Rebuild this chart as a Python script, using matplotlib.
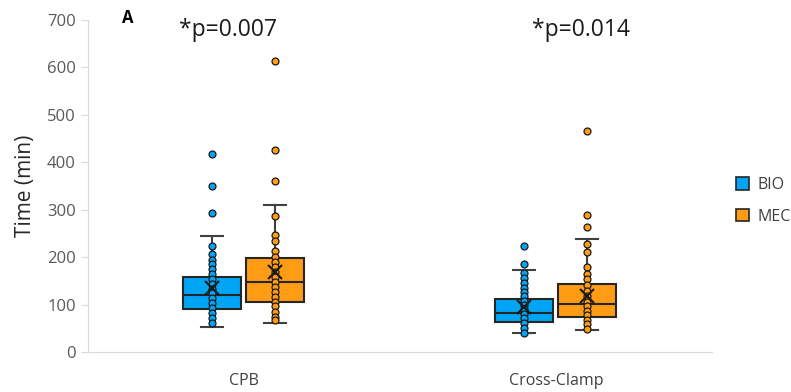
import numpy as np
import matplotlib.pyplot as plt
from matplotlib.patches import Patch

plt.rcParams['font.family'] = ['Open Sans', 'DejaVu Sans']

categories = ["CPB", "Cross-Clamp"]
groups = ["BIO", "MEC"]
p_labels = ["*p=0.007", "*p=0.014"]

# box summaries: whislo, q1, median, q3, whishi, mean
cpb_bio_stats = [53, 90, 120, 158, 245, 134]
cpb_mec_stats = [62, 105, 148, 198, 309, 168]
cc_bio_stats = [40, 64, 83, 112, 172, 95]
cc_mec_stats = [46, 73, 101, 143, 238, 119]

# individual points
cpb_bio_pts = [417, 350, 293, 224, 206, 195, 186, 176, 165, 153, 143, 132, 124,
               113, 103, 92, 82, 71, 61]
cpb_mec_pts = [614, 425, 360, 287, 247, 233, 212, 201, 190, 180, 169, 159, 148,
               138, 127, 117, 106, 96, 85, 74, 68]
cc_bio_pts = [224, 186, 166, 155, 146, 136, 127, 118, 108, 99, 90, 80, 71,
              61, 50, 41]
cc_mec_pts = [465, 289, 263, 228, 210, 179, 165, 153, 141, 129, 118, 106, 97,
              87, 77, 68, 59, 49]

colors = {"BIO": "#00a6f5", "MEC": "#ff9c14"}
stats_all = [[cpb_bio_stats, cpb_mec_stats], [cc_bio_stats, cc_mec_stats]]
pts_all = [[cpb_bio_pts, cpb_mec_pts], [cc_bio_pts, cc_mec_pts]]

fig = plt.figure(figsize=(7.91, 3.92), dpi=100)
ax = fig.add_axes([0.111, 0.102, 0.789, 0.847])

offset = 0.101
width = 0.186
for i, cat in enumerate(categories):
    for j, g in enumerate(groups):
        s = stats_all[i][j]
        pos = i + 0.5 + (j - 0.5) * 2 * offset
        st = dict(whislo=s[0], q1=s[1], med=s[2], q3=s[3], whishi=s[4], mean=s[5])
        ax.bxp([st], positions=[pos], widths=width, capwidths=0.07,
               showfliers=False, showmeans=True, patch_artist=True,
               boxprops=dict(facecolor=colors[g], edgecolor="#262626", linewidth=1.5),
               medianprops=dict(color="#262626", linewidth=1.5),
               whiskerprops=dict(color="#404040", linewidth=1.5),
               capprops=dict(color="#404040", linewidth=1.5),
               meanprops=dict(marker="x", markersize=10, markeredgecolor="#1a1a1a",
                              markeredgewidth=1.5, zorder=5))
        pts = pts_all[i][j]
        ax.plot([pos] * len(pts), pts, "o", ms=5.0, mfc=colors[g], mec="#1a1a1a",
                mew=0.9, zorder=4)

ax.set_xlim(0, 2)
ax.set_ylim(0, 700)
ax.set_yticks(np.arange(0, 701, 100))
ax.set_xticks([0.5, 1.5])
ax.set_xticklabels(categories, fontsize=11.5, color="#404040")
ax.tick_params(axis="y", labelsize=12, labelcolor="#595959", color="#d9d9d9", length=5)
ax.tick_params(axis="x", length=0, pad=15)
for side in ["top", "right"]:
    ax.spines[side].set_visible(False)
for side in ["left", "bottom"]:
    ax.spines[side].set_color("#d9d9d9")
ax.set_ylabel("Time (min)", fontsize=15, color="#262626", labelpad=8)

for i, txt in enumerate(p_labels):
    ax.text(i + 0.5 - 0.05 * (1 - i) + 0.08 * i, 678, txt, ha="center", va="center",
            fontsize=16.5, color="#1a1a1a")
fig.text(128 / 791, 1 - 18 / 392, "A", fontsize=12, fontweight="bold", ha="center", va="center")

handles = [Patch(facecolor=colors[g], edgecolor="#262626", linewidth=1.2) for g in groups]
ax.legend(handles, groups, loc="center left", bbox_to_anchor=(1.016, 0.455), frameon=False,
          fontsize=11.5, handlelength=0.8, handleheight=0.8, labelspacing=1.0,
          handletextpad=0.5, labelcolor="#404040")

fig.savefig("out.png", dpi=100)
